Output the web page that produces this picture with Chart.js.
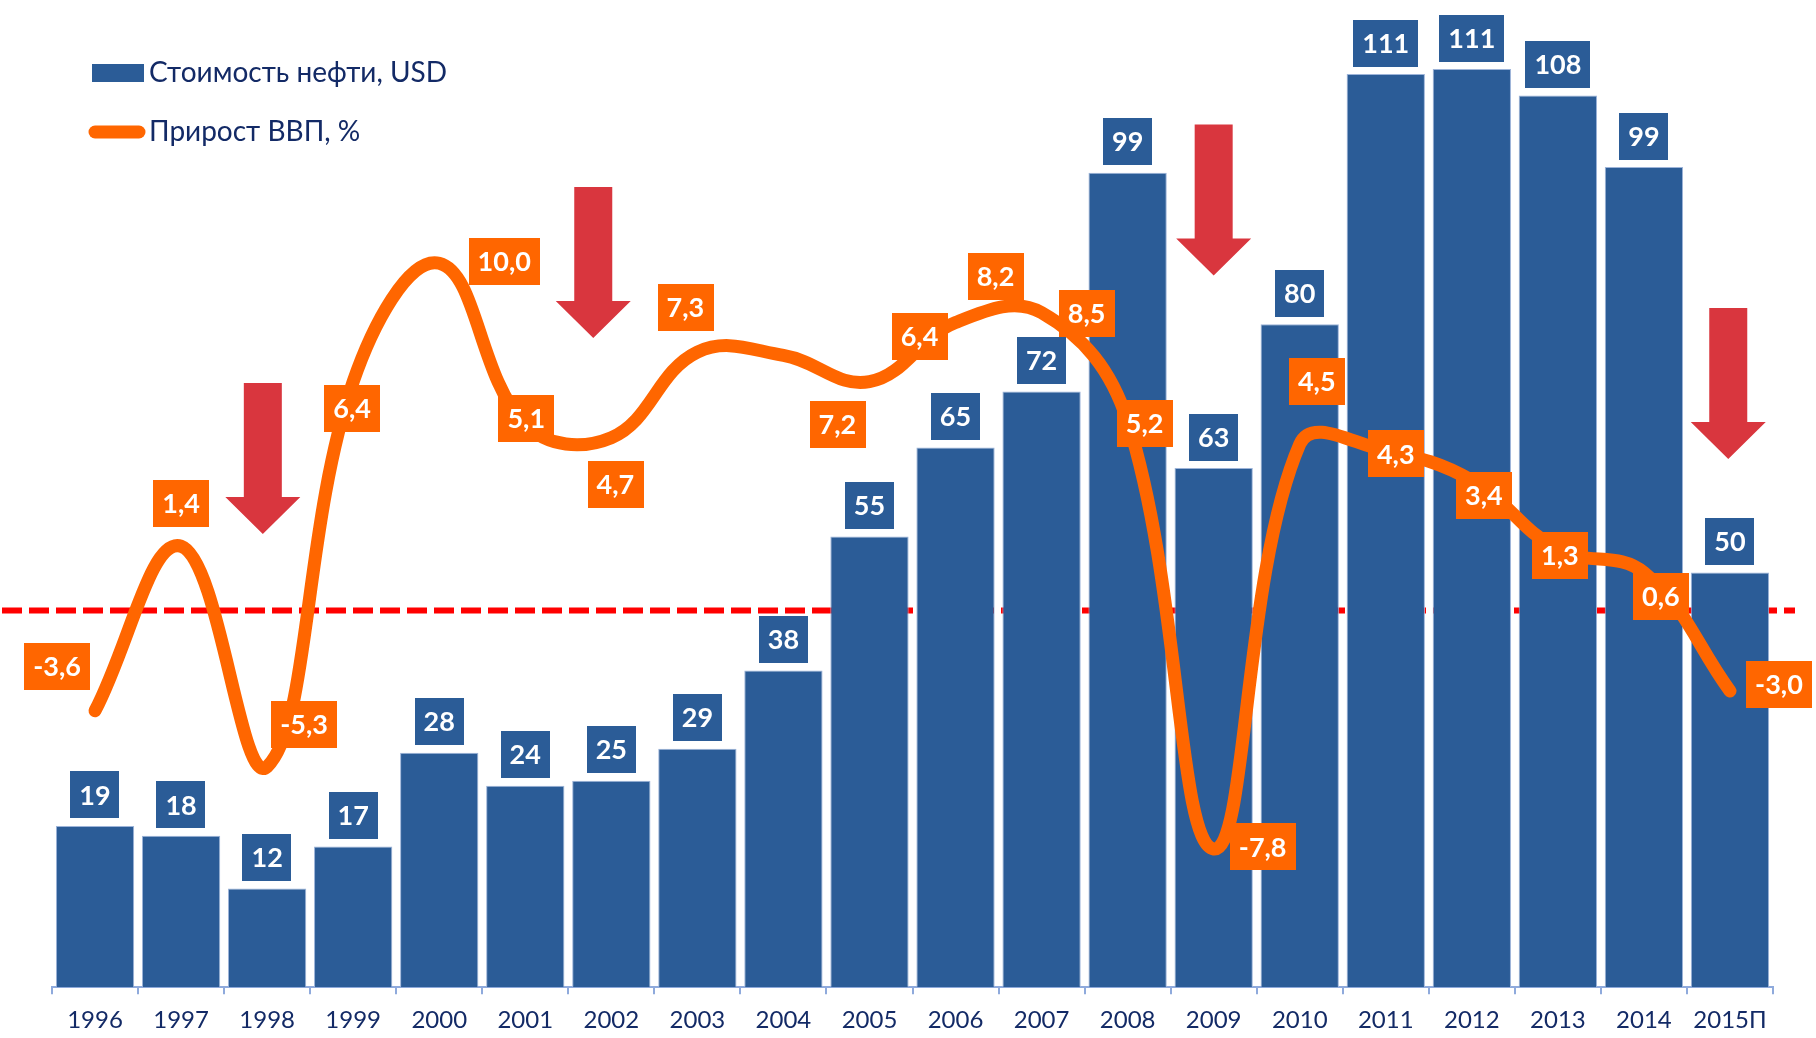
<!DOCTYPE html>
<html>
<head>
<meta charset="utf-8">
<script src="https://cdn.jsdelivr.net/npm/chart.js@4.4.1/dist/chart.umd.min.js"></script>
<style>
  html, body { margin: 0; padding: 0; background: #fff; }
  #wrap { width: 1816px; height: 1038px; position: relative; }
</style>
</head>
<body>
<div id="wrap"><canvas id="chart"></canvas></div>
<script>
const years = ['1996', '1997', '1998', '1999', '2000', '2001', '2002', '2003', '2004', '2005',
    '2006', '2007', '2008', '2009', '2010', '2011', '2012', '2013', '2014', '2015П'];
// oil price, USD (bar heights) and the printed labels
const oilPrice = [19.6, 18.4, 12.0, 17.1, 28.5, 24.5, 25.1, 29.0, 38.5, 54.8,
    65.6, 72.4, 99.0, 63.1, 80.6, 111.0, 111.6, 108.4, 99.7, 50.4];
const oilLabels = ['19', '18', '12', '17', '28', '24', '25', '29', '38', '55',
    '65', '72', '99', '63', '80', '111', '111', '108', '99', '50'];
// GDP growth, %
const gdpGrowth = [-3.6, 1.4, -5.3, 6.4, 10.0, 5.1, 4.7, 7.3, 7.2, 6.4,
    8.2, 8.5, 5.2, -7.8, 4.5, 4.3, 3.4, 1.3, 0.6, -3.0];
// where each GDP label box sits relative to its point (px)
const gdpLabelShift = [[-38, -44], [0, -43], [37, -42], [-1, 27], [65, -2], [1, -6], [4, 47], [-12, -45], [54, 69], [50, -45],
    [40, -46], [45, 1], [17, 2], [49, -2], [17, -63], [10, 3], [12, 15], [2, 6], [17, 24], [49, -7]];
// red arrows: year, tip level on the oil axis, shift in category widths
const arrowYears = ['1998', '2002', '2009', '2015П'];
const arrowTips = [55.1, 78.9, 86.5, 64.2];
const arrowShift = [-0.05, -0.21, 0, -0.02];
const thresholdLevel = -0.55; // dashed red line, GDP axis

const BLUE = '#2B5C97';
const ORANGE = '#FF6600';
const NAVY = '#132A66';
const FONT = 'Lato, "Open Sans", sans-serif';

function box(ctx, cx, cy, text, fill) {
    ctx.font = 'bold 27px ' + FONT;
    const w = ctx.measureText(text).width + 18;
    const h = 47;
    ctx.fillStyle = fill;
    ctx.fillRect(Math.round(cx - w / 2), Math.round(cy - h / 2), Math.round(w), h);
    ctx.fillStyle = '#fff';
    ctx.textAlign = 'center';
    ctx.textBaseline = 'middle';
    ctx.fillText(text, cx, cy + 1);
}

const overlay = {
    id: 'overlay',
    beforeDatasetsDraw(chart) {
        const { ctx, chartArea, scales } = chart;
        const y = scales.y1.getPixelForValue(thresholdLevel);
        ctx.save();
        ctx.strokeStyle = '#FF0000';
        ctx.lineWidth = 6;
        ctx.setLineDash([20, 7]);
        ctx.beginPath();
        ctx.moveTo(2, y);
        ctx.lineTo(chartArea.right + 22, y);
        ctx.stroke();
        ctx.restore();
    },
    afterDatasetsDraw(chart) {
        const { ctx, scales } = chart;
        ctx.save();
        // oil price labels above bars
        const bars = chart.getDatasetMeta(0).data;
        bars.forEach((bar, i) => {
            box(ctx, bar.x, bar.y - 7 - 24, oilLabels[i], BLUE);
        });
        // GDP labels
        const pts = chart.getDatasetMeta(1).data;
        pts.forEach((p, i) => {
            const txt = gdpGrowth[i].toFixed(1).replace('.', ',');
            box(ctx, p.x + gdpLabelShift[i][0], p.y + gdpLabelShift[i][1], txt, ORANGE);
        });
        // arrows
        const step = scales.x.getPixelForValue(1) - scales.x.getPixelForValue(0);
        ctx.fillStyle = '#D9363E';
        arrowYears.forEach((yr, i) => {
            const cx = scales.x.getPixelForValue(years.indexOf(yr)) + arrowShift[i] * step;
            const tip = scales.y.getPixelForValue(arrowTips[i]);
            const len = 151, shaft = 19, head = 37.5, headH = 37;
            ctx.beginPath();
            ctx.moveTo(cx - shaft, tip - len);
            ctx.lineTo(cx + shaft, tip - len);
            ctx.lineTo(cx + shaft, tip - headH);
            ctx.lineTo(cx + head, tip - headH);
            ctx.lineTo(cx, tip);
            ctx.lineTo(cx - head, tip - headH);
            ctx.lineTo(cx - shaft, tip - headH);
            ctx.closePath();
            ctx.fill();
        });
        // legend
        ctx.fillStyle = BLUE;
        ctx.fillRect(92, 64, 52, 18);
        ctx.strokeStyle = ORANGE;
        ctx.lineWidth = 13;
        ctx.lineCap = 'round';
        ctx.beginPath();
        ctx.moveTo(95, 132);
        ctx.lineTo(139, 132);
        ctx.stroke();
        ctx.font = '28px ' + FONT;
        ctx.fillStyle = NAVY;
        ctx.textAlign = 'left';
        ctx.textBaseline = 'middle';
        ctx.fillText(chart.data.datasets[0].label, 149, 73);
        ctx.fillText(chart.data.datasets[1].label, 149, 132);
        ctx.restore();
    }
};

new Chart(document.getElementById('chart'), {
    type: 'bar',
    data: {
        labels: years,
        datasets: [
            {
                type: 'bar',
                label: 'Стоимость нефти, USD',
                data: oilPrice,
                yAxisID: 'y',
                backgroundColor: BLUE,
                borderColor: '#9DB4D9',
                borderWidth: 1,
                categoryPercentage: 1,
                barPercentage: 0.91,
                order: 1
            },
            {
                type: 'line',
                label: 'Прирост ВВП, %',
                data: gdpGrowth,
                yAxisID: 'y1',
                borderColor: ORANGE,
                borderWidth: 13,
                borderCapStyle: 'round',
                borderJoinStyle: 'round',
                tension: 0.4,
                pointRadius: 0,
                fill: false,
                order: 0
            }
        ]
    },
    options: {
        responsive: true,
        maintainAspectRatio: false,
        animation: false,
        layout: { autoPadding: false, padding: { left: 52, right: 43, top: 0, bottom: -9 } },
        plugins: { legend: { display: false }, tooltip: { enabled: false } },
        scales: {
            x: {
                offset: true,
                grid: { display: true, drawOnChartArea: false, drawTicks: true, tickLength: 7, color: '#8FAADC', lineWidth: 2, offset: true },
                border: { display: true, color: '#8FAADC', width: 2 },
                ticks: { color: NAVY, font: { family: FONT, size: 24 }, padding: 12, maxRotation: 0, autoSkip: false }
            },
            y: { display: false, min: 0, max: 120 },
            y1: { display: false, min: -12, max: 18 }
        }
    },
    plugins: [overlay]
});
</script>
</body>
</html>
